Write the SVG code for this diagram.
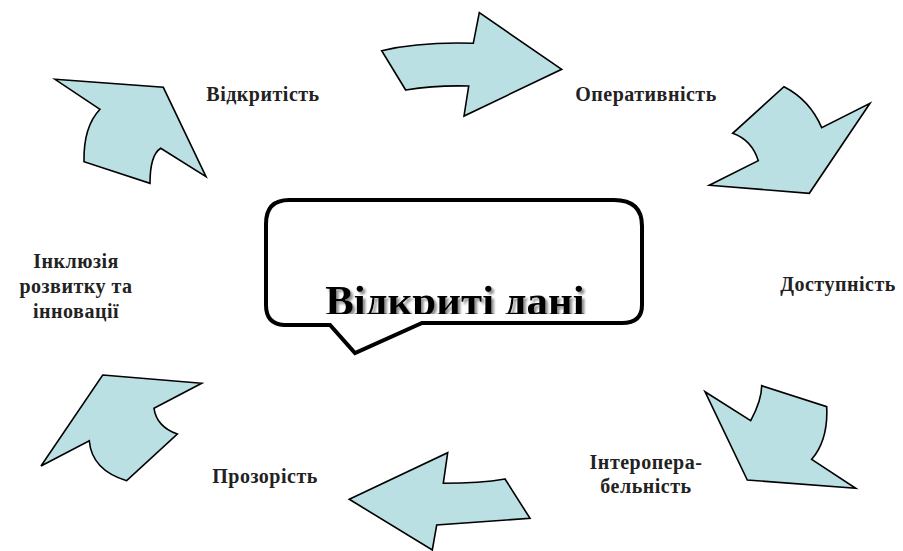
<svg xmlns="http://www.w3.org/2000/svg" width="903" height="551" viewBox="0 0 903 551">
<defs>
<style>
.arrow{fill:#bbe0e3;stroke:#000;stroke-width:1.6;stroke-linejoin:miter}
.lbl{font-family:"Liberation Serif","Times New Roman",serif;font-weight:bold;font-size:20px;letter-spacing:0.5px;fill:#222;text-anchor:middle}
.big{font-family:"Liberation Serif","Times New Roman",serif;font-weight:bold;font-size:43px;fill:#000;text-anchor:middle}
</style>
<clipPath id="inner"><rect x="268" y="203" width="371" height="111"/></clipPath>
<filter id="shadow" x="-10%" y="-30%" width="120%" height="160%">
<feDropShadow dx="2.5" dy="2.5" stdDeviation="1.2" flood-color="#808080" flood-opacity="0.9"/>
</filter>
</defs>
<rect width="903" height="551" fill="#fff"/>
<g id="connectors">
<path id="arrow-top" class="arrow" d="M381.7,50.7 Q420,41.7 473.3,43.3 L479.3,12.7 L561.7,69.3 L464,116 L468.7,86 Q436.7,85 405.7,90 Z"/>
<path id="arrow-topright" class="arrow" d="M784,86.7 Q810,100 821.7,127.7 L870,103.3 L809.3,193.3 L709.3,185.3 L758.3,160.7 Q751.7,140 732.7,133.3 Z"/>
<path id="arrow-bottomright" class="arrow" d="M705,391.7 L750.7,420.7 Q761.7,400 761.7,385.7 L826.7,406.7 Q828.3,440 811.7,459.3 L855.7,488.3 L747.3,480 Z"/>
<path id="arrow-bottom" class="arrow" d="M349.3,499.3 L447.7,452.7 L443.3,483.3 Q480,483.3 505,479 L530,518.3 Q480,521.7 436.7,525 L432.3,550 Z"/>
<path id="arrow-bottomleft" class="arrow" d="M102.7,375 L201.7,383.3 L154,408.3 Q156.7,426.7 177.3,434 L126.7,480.7 Q91.7,470 89.3,440.7 L41,466 Z"/>
<path id="arrow-topleft" class="arrow" d="M55,79.3 L163.3,87.3 L206,176.7 L160.7,148.3 Q150,155 150,183.3 L84,161.7 Q83.3,126.7 100,109.3 Z"/>
</g>
<g id="node-center">
<path d="M289,200 H614 Q642,200 642,226 V305 Q642,323 622,323 H422 L355,353 L330,325 H284 Q266,324 266,305 V224 Q266,200 289,200 Z" fill="#fff" stroke="#000" stroke-width="4" stroke-linejoin="miter"/>
<g clip-path="url(#inner)">
<text class="big" x="455" y="315" filter="url(#shadow)">Відкриті дані</text>
</g>
</g>
<g id="node-vidkrytist"><text class="lbl" x="263" y="101">Відкритість</text></g>
<g id="node-operatyvnist"><text class="lbl" x="646" y="101">Оперативність</text></g>
<g id="node-dostupnist"><text class="lbl" x="838" y="291">Доступність</text></g>
<g id="node-interoperabelnist"><text class="lbl" x="646" y="469">Інтеропера-</text><text class="lbl" x="646" y="493">бельність</text></g>
<g id="node-prozorist"><text class="lbl" x="265" y="483">Прозорість</text></g>
<g id="node-inkliuziia"><text class="lbl" x="76" y="268">Інклюзія</text><text class="lbl" x="76" y="293">розвитку та</text><text class="lbl" x="76" y="318">інновації</text></g>
</svg>
